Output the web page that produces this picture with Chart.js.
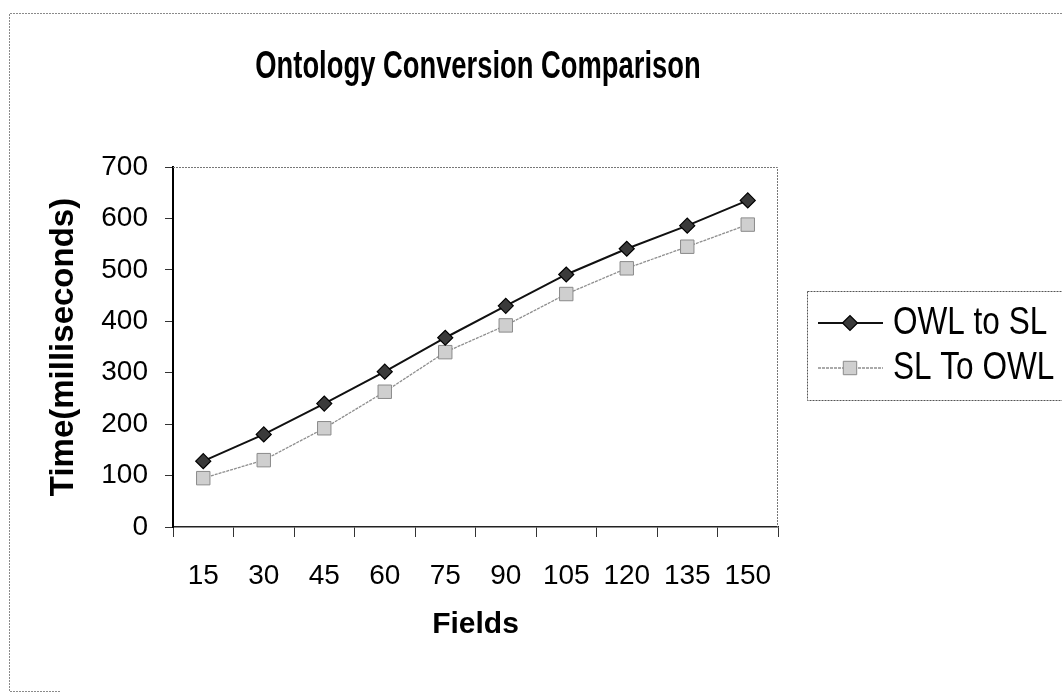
<!DOCTYPE html>
<html>
<head>
<meta charset="utf-8">
<script src="https://cdn.jsdelivr.net/npm/chart.js@4.4.1/dist/chart.umd.min.js"></script>
<style>
  html, body { margin: 0; padding: 0; background: #fff; }
  #wrap { width: 1062px; height: 693px; }
</style>
</head>
<body>
<div id="wrap"><canvas id="c" width="1062" height="693"></canvas></div>
<script>
// ---- data ----
const chartTitle = 'Ontology Conversion Comparison';
const xAxisTitle = 'Fields';
const yAxisTitle = 'Time(milliseconds)';
const categories = ['15', '30', '45', '60', '75', '90', '105', '120', '135', '150'];
const seriesLabels = ['OWL to SL', 'SL To OWL'];
const owlToSL = [128, 180, 240, 302, 368, 430, 491, 541, 586, 635];
const slToOWL = [95, 130, 192, 263, 340, 392, 453, 503, 545, 588];
const yMin = 0, yMax = 700, yStep = 100;

const FONT = '"Liberation Sans", Arial, sans-serif';

const bgPlugin = {
  id: 'bg',
  beforeDraw(chart) {
    const ctx = chart.ctx;
    ctx.save();
    ctx.fillStyle = '#fff';
    ctx.fillRect(0, 0, chart.width, chart.height);
    // outer chart border (partially visible in reference)
    ctx.strokeStyle = '#8a8a8a';
    ctx.lineWidth = 1;
    ctx.setLineDash([2, 1]);
    ctx.beginPath();
    ctx.moveTo(60, 691.5);
    ctx.lineTo(9.5, 691.5);
    ctx.lineTo(9.5, 13.5);
    ctx.lineTo(1062, 13.5);
    ctx.stroke();
    ctx.restore();
  },
  beforeDatasetsDraw(chart) {
    const {ctx, chartArea: a} = chart;
    ctx.save();
    ctx.strokeStyle = '#777';
    ctx.lineWidth = 1;
    ctx.setLineDash([2, 1]);
    ctx.beginPath();
    ctx.moveTo(a.left, a.top + 0.5);
    ctx.lineTo(a.right - 0.5, a.top + 0.5);
    ctx.lineTo(a.right - 0.5, a.bottom);
    ctx.stroke();
    ctx.restore();
  }
};

function condensedText(ctx, text, x, y, font, sx, align, baseline) {
  ctx.save();
  ctx.font = font;
  ctx.fillStyle = '#000';
  ctx.textAlign = align;
  ctx.textBaseline = baseline;
  ctx.translate(x, y);
  ctx.scale(sx, 1);
  ctx.fillText(text, 0, 0);
  ctx.restore();
}

const titlePlugin = {
  id: 'condensedTitle',
  afterDraw(chart) {
    condensedText(chart.ctx, chartTitle, 478, 78, 'bold 38px ' + FONT, 0.72, 'center', 'alphabetic');
  }
};

const legendPlugin = {
  id: 'excelLegend',
  afterDraw(chart) {
    const ctx = chart.ctx;
    ctx.save();
    ctx.strokeStyle = '#555';
    ctx.lineWidth = 1;
    ctx.setLineDash([2, 1]);
    ctx.strokeRect(807.5, 291.5, 270, 109);
    ctx.setLineDash([]);
    const ys = [323, 368];
    chart.data.datasets.forEach((ds, i) => {
      const y = ys[i];
      ctx.save();
      ctx.strokeStyle = ds.borderColor;
      ctx.lineWidth = ds.borderWidth;
      if (ds.borderDash) ctx.setLineDash(ds.borderDash);
      ctx.beginPath();
      ctx.moveTo(818, y);
      ctx.lineTo(883, y);
      ctx.stroke();
      ctx.restore();
      ctx.save();
      ctx.fillStyle = ds.pointBackgroundColor;
      ctx.strokeStyle = ds.pointBorderColor;
      ctx.lineWidth = ds.pointBorderWidth;
      Chart.helpers.drawPoint(ctx, {
        pointStyle: ds.pointStyle,
        radius: ds.pointRadius,
        borderWidth: ds.pointBorderWidth,
        rotation: 0
      }, 850, y);
      ctx.restore();
      condensedText(ctx, ds.label, 893, y + 1, '38px ' + FONT, 0.83, 'left', 'middle');
    });
    ctx.restore();
  }
};

new Chart(document.getElementById('c'), {
  type: 'line',
  data: {
    labels: categories,
    datasets: [
      {
        label: seriesLabels[0],
        data: owlToSL,
        borderColor: '#111',
        borderWidth: 2,
        pointStyle: 'rectRot',
        pointRadius: 7.5,
        pointHoverRadius: 7.5,
        pointBackgroundColor: '#3a3a3a',
        pointBorderColor: '#000',
        pointBorderWidth: 1.2,
        tension: 0,
        fill: false
      },
      {
        label: seriesLabels[1],
        data: slToOWL,
        borderColor: '#8e8e8e',
        borderWidth: 1.3,
        borderDash: [3, 1],
        pointStyle: 'rect',
        pointRadius: 9.5,
        pointHoverRadius: 9.5,
        pointBackgroundColor: '#cfcfcf',
        pointBorderColor: '#8a8a8a',
        pointBorderWidth: 1,
        tension: 0,
        fill: false
      }
    ]
  },
  options: {
    responsive: false,
    animation: false,
    devicePixelRatio: 1,
    layout: { padding: { left: 0, top: 167, right: 284, bottom: 0 } },
    plugins: {
      legend: { display: false },
      title: { display: false },
      tooltip: { enabled: false }
    },
    scales: {
      x: {
        type: 'category',
        offset: true,
        grid: {
          offset: true,
          drawOnChartArea: false,
          drawTicks: true,
          tickLength: 10,
          color: '#333',
          lineWidth: 1
        },
        border: { display: true, color: '#222', width: 1.5 },
        ticks: {
          autoSkip: false,
          maxRotation: 0,
          minRotation: 0,
          padding: 22,
          color: '#000',
          font: { family: FONT, size: 28 }
        },
        title: {
          display: true,
          text: xAxisTitle,
          color: '#000',
          font: { family: FONT, size: 30, weight: 'bold' },
          padding: { top: 0, bottom: 50 }
        },
        afterFit(scale) { scale.height = 166; }
      },
      y: {
        min: yMin,
        max: yMax,
        grid: {
          drawOnChartArea: false,
          drawTicks: true,
          tickLength: 8,
          color: '#333',
          lineWidth: 1
        },
        border: { display: true, color: '#000', width: 2 },
        ticks: {
          stepSize: yStep,
          padding: 17,
          color: '#000',
          font: { family: FONT, size: 28 }
        },
        title: {
          display: true,
          text: yAxisTitle,
          color: '#000',
          font: { family: FONT, size: 33, weight: 'bold' },
          padding: { top: 44, bottom: 0 }
        },
        afterFit(scale) { scale.width = 173; }
      }
    }
  },
  plugins: [bgPlugin, titlePlugin, legendPlugin]
});
</script>
</body>
</html>
